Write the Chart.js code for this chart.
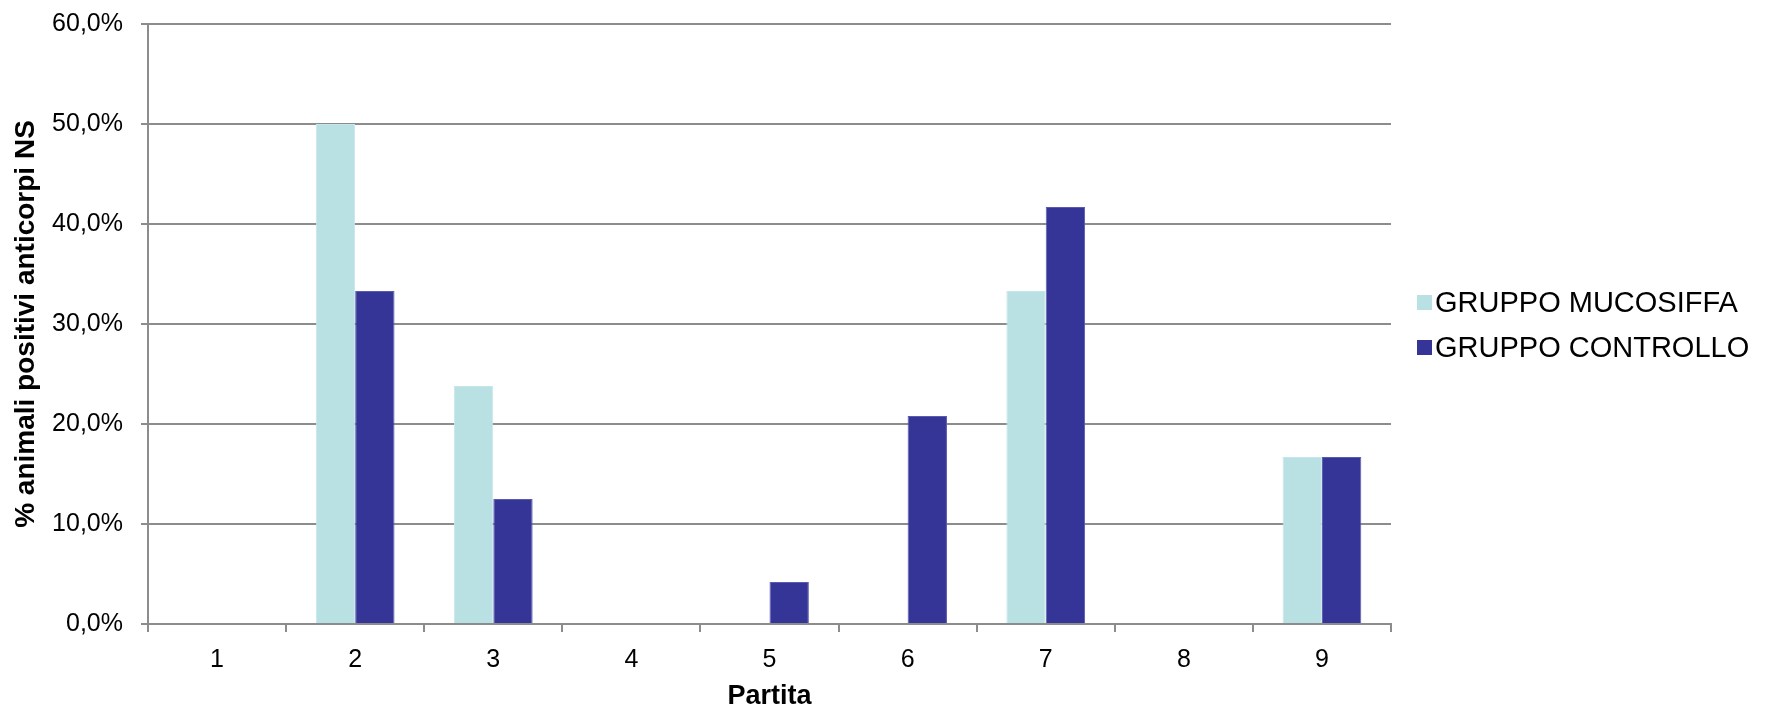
<!DOCTYPE html>
<html lang="it">
<head>
<meta charset="UTF-8">
<title>% animali positivi anticorpi NS</title>
<script src="https://cdn.jsdelivr.net/npm/chart.js"></script>
<style>
    body {
        margin: 0;
        background: #fff;
        font-family: "Liberation Sans", Arial, sans-serif;
    }
    .wrap {
        position: relative;
        width: 1770px;
        height: 705px;
    }
    #legend {
        position: absolute;
        left: 1417px;
        top: 280px;
    }
    .item {
        display: flex;
        align-items: center;
        height: 45px;
        font-size: 29px;
        color: #000;
        white-space: nowrap;
    }
    .box {
        width: 15px;
        height: 15px;
        margin-right: 3px;
        flex: none;
    }
</style>
</head>
<body>

<div class="wrap">
    <canvas id="grafico"></canvas>
    <div id="legend"></div>
</div>

<script>
    const partite = ["1", "2", "3", "4", "5", "6", "7", "8", "9"];
    const serie = ["GRUPPO MUCOSIFFA", "GRUPPO CONTROLLO"];
    const mucosiffa = [0, 50.0, 23.8, 0, 0, 0, 33.3, 0, 16.7];
    const controllo = [0, 33.3, 12.5, 0, 4.2, 20.8, 41.7, 0, 16.7];
    const colori = ["#b9e0e3", "#353598"];
    const bordi = ["#c6e7ea", "#5a5ab0"];

    const grigio = "#8c8c8c";
    const font = "'Liberation Sans', Arial, sans-serif";

    // legenda in HTML, a destra del grafico
    const legend = document.getElementById("legend");
    serie.forEach((nome, i) => {
        const row = document.createElement("div");
        row.className = "item";
        const box = document.createElement("span");
        box.className = "box";
        box.style.background = colori[i];
        row.appendChild(box);
        row.appendChild(document.createTextNode(nome));
        legend.appendChild(row);
    });

    function formatta(v) {
        return v.toFixed(1).replace(".", ",") + "%";
    }

    new Chart(document.getElementById("grafico"), {
        type: "bar",
        data: {
            labels: partite,
            datasets: [
                {
                    label: serie[0],
                    data: mucosiffa,
                    backgroundColor: colori[0],
                    borderColor: bordi[0],
                    borderWidth: 1,
                },
                {
                    label: serie[1],
                    data: controllo,
                    backgroundColor: colori[1],
                    borderColor: bordi[1],
                    borderWidth: 1,
                },
            ],
        },
        options: {
            responsive: true,
            maintainAspectRatio: false,
            animation: false,
            datasets: {
                bar: {
                    categoryPercentage: 0.57,
                    barPercentage: 1.0,
                },
            },
            layout: {
                padding: { top: 24, right: 379, bottom: 0, left: 0 },
            },
            plugins: {
                legend: { display: false },
                tooltip: { enabled: false },
            },
            scales: {
                x: {
                    afterFit: (s) => { s.height = 81; },
                    grid: {
                        display: true,
                        drawOnChartArea: false,
                        offset: true,
                        tickLength: 8,
                        color: grigio,
                        lineWidth: 2,
                    },
                    border: { color: grigio, width: 2 },
                    ticks: {
                        color: "#000",
                        padding: 13,
                        font: { family: font, size: 25 },
                    },
                    title: {
                        display: true,
                        text: "Partita",
                        color: "#000",
                        padding: { top: 0, bottom: -5 },
                        font: { family: font, size: 27, weight: "bold", lineHeight: 1 },
                    },
                },
                y: {
                    min: 0,
                    max: 60,
                    afterFit: (s) => {
                        s.width = 148;
                        // l'etichetta in alto non deve spingere giu' l'area del grafico
                        s.paddingTop = 10;
                        s.paddingBottom = 0;
                    },
                    grid: {
                        color: grigio,
                        lineWidth: 2,
                        tickLength: 7,
                    },
                    border: { color: grigio, width: 2 },
                    ticks: {
                        stepSize: 10,
                        color: "#000",
                        padding: 18,
                        font: { family: font, size: 25 },
                        callback: (v) => formatta(v),
                    },
                    title: {
                        display: true,
                        text: "% animali positivi anticorpi NS",
                        color: "#000",
                        padding: { top: 12, bottom: 0 },
                        font: { family: font, size: 28, weight: "bold", lineHeight: 1 },
                    },
                },
            },
        },
    });
</script>

</body>
</html>
